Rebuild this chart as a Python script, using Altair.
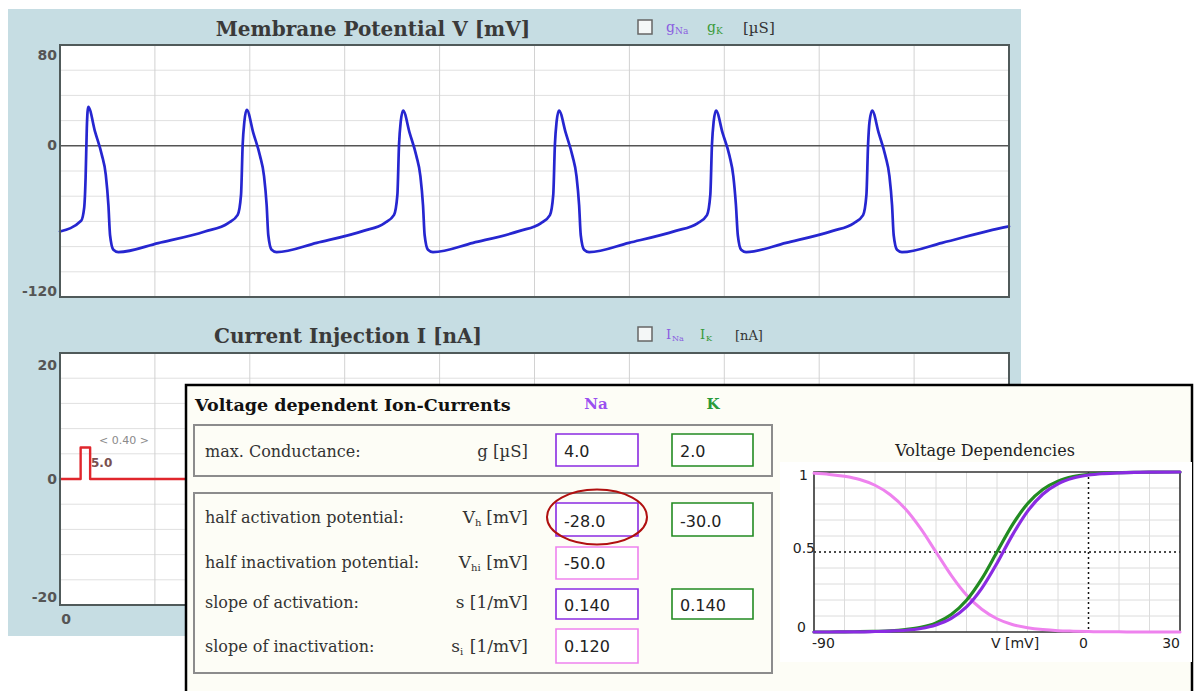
import altair as alt
import pandas as pd

# ---------------- data ----------------
# membrane potential trace (time in ms, potential in mV)
TIME_MS = [
    0.00, 0.89, 1.02, 1.08, 1.13, 1.19, 1.48, 1.76, 1.93, 2.04, 2.11, 2.25, 2.46, 4.14, 6.11, 7.09,
    7.49, 7.63, 7.70, 7.77, 7.87, 8.15, 8.43, 8.60, 8.71, 8.78, 8.92, 9.13, 10.82, 12.79,
    13.68, 14.08, 14.22, 14.29, 14.36, 14.46, 14.74, 15.02, 15.19, 15.30, 15.37, 15.51, 15.72, 17.41, 19.38,
    20.26, 20.65, 20.79, 20.86, 20.93, 21.03, 21.32, 21.60, 21.77, 21.88, 21.95, 22.09, 22.30, 23.98, 25.95,
    26.87, 27.27, 27.41, 27.48, 27.55, 27.65, 27.93, 28.22, 28.38, 28.49, 28.57, 28.71, 28.92, 30.60, 32.57,
    33.45, 33.85, 33.99, 34.06, 34.12, 34.23, 34.51, 34.79, 34.96, 35.07, 35.14, 35.28, 35.49, 37.18, 39.14,
    40.00,
]
V_MV = [
    -68, -59.5, -49, -25, 14, 31, 11, -7, -23, -47, -71, -82.5, -84.4, -77.2, -68, -61.3,
    -54.8, -39, 1, 19, 28.6, 10, -8, -24, -47, -71, -82.5, -84.4, -77, -67.5,
    -61.3, -54.8, -39, 1, 19, 28, 10, -8, -24, -47, -71, -82.5, -84.4, -77, -67.5,
    -61.5, -55, -39, 1, 19, 28, 10, -8, -24, -47, -71, -82.5, -84.4, -77, -67.5,
    -61.5, -55, -39, 1, 19, 28, 10, -8, -24, -47, -71, -82.5, -84.4, -77, -67.5,
    -61.5, -55, -39, 1, 19, 28, 10, -8, -24, -47, -71, -82.5, -84.4, -77, -67.5,
    -64,
]
# injected current pulse (ms, nA)
PULSE_T_MS = [0.0, 0.87, 0.87, 1.27, 1.27, 40.0]
PULSE_I_NA = [0.0, 0.0, 5.0, 5.0, 0.0, 0.0]
PULSE_WIDTH_LABEL = "< 0.40 >"
PULSE_AMP_LABEL = "5.0"

T_DOMAIN = [0, 40]
V_DOMAIN = [-120, 80]
I_DOMAIN = [-20, 20]
T_GRID_MS = [4, 8, 12, 16, 20, 24, 28, 32, 36]
V_GRID_MV = [-100, -80, -60, -40, -20, 20, 40, 60]
I_GRID_NA = [-16, -12, -8, -4, 4, 8, 12, 16]

# voltage dependencies (steady-state curves)
DEP_V_MV = [-90, -85, -80, -75, -70, -65, -60, -55, -50, -45, -40, -35, -30,
            -25, -20, -15, -10, -5, 0, 5, 10, 15, 20, 25, 30]
NA_ACT = [0.000, 0.000, 0.001, 0.001, 0.003, 0.006, 0.011, 0.022, 0.044, 0.085, 0.157, 0.273, 0.430,
          0.604, 0.754, 0.861, 0.926, 0.962, 0.981, 0.990, 0.995, 0.998, 0.999, 0.999, 1.000]
K_ACT = [0.000, 0.000, 0.001, 0.002, 0.004, 0.007, 0.015, 0.029, 0.057, 0.109, 0.198, 0.332, 0.500,
         0.668, 0.802, 0.891, 0.943, 0.971, 0.985, 0.993, 0.996, 0.998, 0.999, 1.000, 1.000]
NA_INACT = [0.992, 0.985, 0.973, 0.953, 0.917, 0.858, 0.769, 0.646, 0.500, 0.354, 0.231, 0.142, 0.083,
            0.047, 0.027, 0.015, 0.008, 0.005, 0.003, 0.001, 0.001, 0.000, 0.000, 0.000, 0.000]
DEP_X_DOMAIN = [-90, 30]
DEP_Y_DOMAIN = [0, 1]
DEP_GRID_V = [-80, -70, -60, -50, -40, -30, -20, -10, 10, 20]
DEP_GRID_P = [0.1, 0.2, 0.3, 0.4, 0.6, 0.7, 0.8, 0.9]

# parameter form
ROW_LABELS = ["max. Conductance:", "half activation potential:", "half inactivation potential:",
              "slope of activation:", "slope of inactivation:"]
NA_VALUES = ["4.0", "-28.0", "-50.0", "0.140", "0.120"]
K_VALUES = ["2.0", "-30.0", "", "0.140", ""]

# ---------------- styling / layout ----------------
SERIF = "DejaVu Serif"
SANS = "DejaVu Sans"
PANEL = "#c6dde3"
FRAME = "#505a5a"
NA_C = "#8a2be2"
K_C = "#228b22"
INACT_C = "#ee82ee"

TOP_X = alt.Scale(domain=T_DOMAIN, range=[60, 1009], nice=False, zero=False)
TOP_Y = alt.Scale(domain=V_DOMAIN, range=[297, 45], nice=False, zero=False)
BOT_X = alt.Scale(domain=T_DOMAIN, range=[60, 1009], nice=False, zero=False)
BOT_Y = alt.Scale(domain=I_DOMAIN, range=[605, 353], nice=False, zero=False)
DEP_X = alt.Scale(domain=DEP_X_DOMAIN, range=[814, 1180], nice=False, zero=False)
DEP_Y = alt.Scale(domain=DEP_Y_DOMAIN, range=[632, 472], nice=False, zero=False)

ONE = alt.Data(values=[{"k": 0}])
L = []


def box(x, y, x2, y2, fill=None, stroke=None, sw=1.0):
    kw = {}
    if fill is None:
        kw["fill"] = "white"
        kw["fillOpacity"] = 0
    else:
        kw["fill"] = fill
    if stroke is not None:
        kw["stroke"] = stroke
        kw["strokeWidth"] = sw
    L.append(alt.Chart(ONE).mark_rect(**kw).encode(
        x=alt.value(x), y=alt.value(y), x2=alt.value(x2), y2=alt.value(y2)))


def text(s, x, y, size=16, font=SERIF, color="#333", align="left", weight="normal"):
    L.append(alt.Chart(ONE).mark_text(
        text=s, font=font, fontSize=size, color=color, align=align,
        baseline="alphabetic", fontWeight=weight).encode(x=alt.value(x), y=alt.value(y)))


def hgrid(values, yscale, x0, x1, color, sw=1.0, dash=None):
    kw = {"color": color, "strokeWidth": sw}
    if dash:
        kw["strokeDash"] = dash
    L.append(alt.Chart(pd.DataFrame({"y": values})).mark_rule(**kw).encode(
        y=alt.Y("y:Q", scale=yscale, axis=None), x=alt.value(x0), x2=alt.value(x1)))


def vgrid(values, xscale, y0, y1, color, sw=1.0, dash=None):
    kw = {"color": color, "strokeWidth": sw}
    if dash:
        kw["strokeDash"] = dash
    L.append(alt.Chart(pd.DataFrame({"x": values})).mark_rule(**kw).encode(
        x=alt.X("x:Q", scale=xscale, axis=None), y=alt.value(y0), y2=alt.value(y1)))


def ylabel(value, s, yscale, xr, dy, size=14, font=SANS, color="#555555", weight="bold"):
    L.append(alt.Chart(ONE).mark_text(
        text=s, font=font, fontSize=size, color=color, align="right", baseline="alphabetic",
        fontWeight=weight, dy=dy).encode(
        x=alt.value(xr), y=alt.YDatum(value, scale=yscale, axis=None, type="quantitative")))


def xlabel(value, s, xscale, y, dx=0, align="center", size=14, font=SANS, color="#555555", weight="bold"):
    L.append(alt.Chart(ONE).mark_text(
        text=s, font=font, fontSize=size, color=color, align=align, baseline="alphabetic",
        fontWeight=weight, dx=dx).encode(
        y=alt.value(y), x=alt.XDatum(value, scale=xscale, axis=None, type="quantitative")))


def series(xs, ys, xscale, yscale, color, sw, interp="linear"):
    L.append(alt.Chart(pd.DataFrame({"x": xs, "y": ys})).mark_line(
        color=color, strokeWidth=sw, interpolate=interp, strokeJoin="round", strokeCap="round").encode(
        x=alt.X("x:Q", scale=xscale, axis=None), y=alt.Y("y:Q", scale=yscale, axis=None)))


# ---------------- simulator panel ----------------
box(8, 9, 1021, 636, fill=PANEL)

# membrane potential chart
box(60, 45, 1009, 297, fill="white")
hgrid(V_GRID_MV, TOP_Y, 60, 1009, "#e0e0e0")
vgrid(T_GRID_MS, TOP_X, 45, 297, "#d2d2d2")
hgrid([0], TOP_Y, 60, 1009, "#555555", 1.6)
series(TIME_MS, V_MV, TOP_X, TOP_Y, "#2626d0", 2.7, "monotone")
box(60, 45, 1009, 297, stroke=FRAME, sw=2)
ylabel(80, "80", TOP_Y, 57, 15)
ylabel(0, "0", TOP_Y, 57, 4.5)
ylabel(-120, "-120", TOP_Y, 57, -1.5)
text("Membrane Potential V [mV]", 373, 36, size=20, color="#3a3a3a", align="center", weight="bold")
box(638, 20, 652, 34, fill="#f4f7f7", stroke="#666666", sw=1.5)
text("g", 666, 32, size=14, color="#8a5ce0")
text("Na", 675, 34, size=9, color="#8a5ce0")
text("g", 707, 32, size=14, color="#3a9a3a")
text("K", 716, 34, size=9, color="#3a9a3a")
text("[µS]", 743, 33, size=15, color="#333333")

# current injection chart
box(60, 353, 1009, 605, fill="white")
hgrid(I_GRID_NA, BOT_Y, 60, 1009, "#e0e0e0")
vgrid(T_GRID_MS, BOT_X, 353, 605, "#d2d2d2")
series(PULSE_T_MS, PULSE_I_NA, BOT_X, BOT_Y, "#e0262c", 2.4)
box(60, 353, 1009, 605, stroke=FRAME, sw=2)
ylabel(20, "20", BOT_Y, 57, 17)
ylabel(0, "0", BOT_Y, 57, 5)
ylabel(-20, "-20", BOT_Y, 57, -3)
xlabel(0, "0", BOT_X, 624, dx=6)
text(PULSE_WIDTH_LABEL, 124, 444, size=11, font=SANS, color="#8a8a8a", align="center")
text(PULSE_AMP_LABEL, 91, 467, size=12, font=SANS, color="#7a5050", weight="bold")
text("Current Injection I [nA]", 348, 343, size=20, color="#3a3a3a", align="center", weight="bold")
box(638, 327, 652, 341, fill="#f4f7f7", stroke="#666666", sw=1.5)
text("I", 666, 339, size=13, color="#8a5ce0")
text("Na", 672, 341, size=8, color="#8a5ce0")
text("I", 700, 339, size=13, color="#3a9a3a")
text("K", 706, 341, size=8, color="#3a9a3a")
text("[nA]", 735, 340, size=13, color="#333333")

# ---------------- overlay form ----------------
box(186, 385, 1192, 700, fill="#fdfdf6", stroke="#000000", sw=2.5)
text("Voltage dependent Ion-Currents", 195, 411, size=17.5, color="#111111", weight="bold")
text("Na", 596, 409, size=15, color="#9a4ff0", align="center", weight="bold")
text("K", 713, 409, size=15, color="#2a9a3a", align="center", weight="bold")

box(194, 425, 772, 476, stroke="#8c8c8c", sw=2)
box(194, 493, 772, 673, stroke="#8c8c8c", sw=2)

ROW_BASE = [457, 523, 568, 608, 652]
for lab, yb in zip(ROW_LABELS, ROW_BASE):
    text(lab, 205, yb, size=16, color="#333333")

# units, with subscripts
text("g [µS]", 528, 457, size=16.5, color="#333333", align="right")
text("[mV]", 528, 523, size=17, color="#333333", align="right")
text("h", 475, 526, size=10, color="#333333")
text("V", 475, 523, size=17, color="#333333", align="right")
text("[mV]", 528, 568, size=17, color="#333333", align="right")
text("hi", 471, 571, size=10, color="#333333")
text("V", 471, 568, size=17, color="#333333", align="right")
text("s [1/mV]", 528, 608, size=17, color="#333333", align="right")
text("[1/mV]", 528, 652, size=17, color="#333333", align="right")
text("i", 460, 655, size=10, color="#333333")
text("s", 460, 652, size=17, color="#333333", align="right")

# input boxes
NA_BOX = [(434, 466, NA_C), (503, 536, NA_C), (547, 579, INACT_C), (589, 619, NA_C), (629, 663, INACT_C)]
VAL_BASE = [457, 527, 569, 611, 652]
for (y0, y1, col), v, yb in zip(NA_BOX, NA_VALUES, VAL_BASE):
    box(556, y0, 638, y1, fill="white", stroke=col, sw=1.6)
    text(v, 564, yb, size=16, font=SANS, color="#222222")
for (y0, y1, _), v, yb in zip(NA_BOX, K_VALUES, VAL_BASE):
    if v:
        box(672, y0, 753, y1, fill="white", stroke=K_C, sw=1.6)
        text(v, 680, yb, size=16, font=SANS, color="#222222")

# red highlight ellipse
L.append(alt.Chart(ONE).mark_point(
    shape="M -1 0 A 1 0.55 0 1 1 1 0 A 1 0.55 0 1 1 -1 0 Z",
    size=100 * 100, filled=False, stroke="#b01010", strokeWidth=2, opacity=1).encode(
    x=alt.value(597), y=alt.value(517)))

# ---------------- voltage dependencies chart ----------------
box(780, 462, 1192, 662, fill="white")
text("Voltage Dependencies", 985, 456, size=16, color="#222222", align="center")
vgrid(DEP_GRID_V, DEP_X, 472, 632, "#dcdcdc")
hgrid(DEP_GRID_P, DEP_Y, 814, 1180, "#dcdcdc")
vgrid([0], DEP_X, 472, 632, "#111111", 1.5, dash=[2, 3])
hgrid([0.5], DEP_Y, 814, 1180, "#111111", 1.5, dash=[2, 3])
box(814, 472, 1180, 632, stroke="#333333", sw=1.6)
series(DEP_V_MV, NA_INACT, DEP_X, DEP_Y, INACT_C, 3, "monotone")
series(DEP_V_MV, K_ACT, DEP_X, DEP_Y, K_C, 3.2, "monotone")
series(DEP_V_MV, NA_ACT, DEP_X, DEP_Y, NA_C, 3.2, "monotone")
ylabel(1, "1", DEP_Y, 808, 8, size=14, color="#222222", weight="normal")
ylabel(0.5, "0.5", DEP_Y, 815, 1, size=14, color="#222222", weight="normal")
ylabel(0, "0", DEP_Y, 806, 0, size=14, color="#222222", weight="normal")
xlabel(-90, "-90", DEP_X, 648, dx=-2, align="left", size=14, color="#222222", weight="normal")
xlabel(0, "0", DEP_X, 648, dx=-5, align="center", size=14, color="#222222", weight="normal")
xlabel(30, "30", DEP_X, 648, dx=0, align="right", size=14, color="#222222", weight="normal")
text("V [mV]", 1015, 648, size=14, font=SANS, color="#222222", align="center")

chart = alt.layer(*L).resolve_scale(x="independent", y="independent").properties(
    width=1194, height=691, padding=0,
    autosize=alt.AutoSizeParams(type="none"), background="white",
).configure_view(strokeWidth=0)

chart.save("out.html", embed_options={"renderer": "svg", "actions": False})
